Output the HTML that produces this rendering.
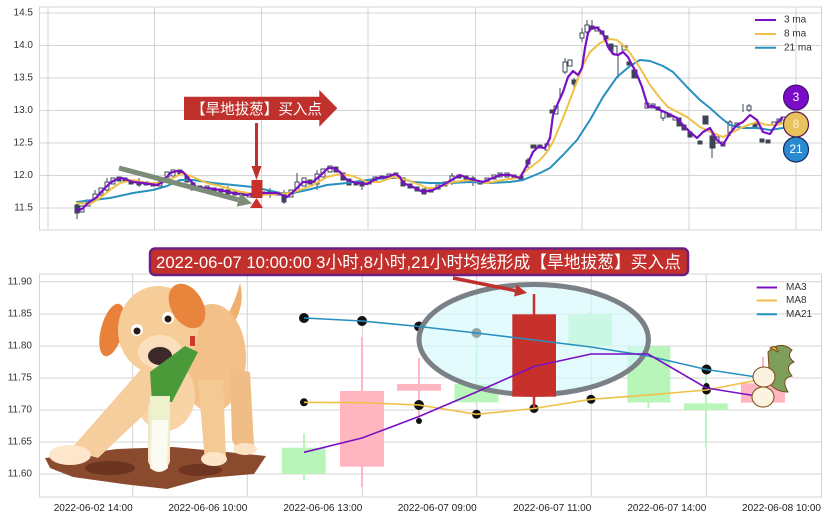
<!DOCTYPE html>
<html><head><meta charset="utf-8"><style>
html,body{margin:0;padding:0;background:#fff;}
svg{display:block;font-family:"Liberation Sans","Noto Sans CJK SC",sans-serif;}
</style></head><body>
<svg width="827" height="520" viewBox="0 0 827 520" xmlns="http://www.w3.org/2000/svg">
<rect width="827" height="520" fill="#fff"/>
<!-- TOP AXES -->
<g stroke="#d4d4d4" stroke-width="1" fill="none">
<path d="M40,13H822M40,45.5H822M40,78H822M40,110.5H822M40,143H822M40,175.5H822M40,208H822"/>
<path d="M48,7V230M154.5,7V230M261.5,7V230M368,7V230M475.5,7V230M582,7V230M689,7V230M796,7V230"/>
<rect x="39.5" y="7" width="782" height="223"/>
</g>
<g font-size="10" fill="#333" text-anchor="end" dominant-baseline="middle">
<text x="33" y="13">14.5</text><text x="33" y="45.5">14.0</text><text x="33" y="78">13.5</text><text x="33" y="110.5">13.0</text><text x="33" y="143">12.5</text><text x="33" y="175.5">12.0</text><text x="33" y="208">11.5</text>
</g>
<!-- top candles -->
<g stroke="#3d4455" stroke-width="1">
<path fill="none" d="M77,203V219M95,190V202M107,178V192M139,178V187M228,186V196M270,188V198M284,190V204M297,173V192M317,170V190M362,180V190M452,173V185M473,176V186M528,158V168M560,88V98M565,58V74M574,78V88M582,28V42M587,20V34M592,20V30M606,35V43M618,56V78M663,110V121M712,133V158M743,104V112M749,104V112M730,120V136"/>
<g fill="#fff">
<rect x="80" y="206" width="4" height="6"/><rect x="86" y="200" width="4" height="6"/><rect x="93" y="194" width="4" height="6"/><rect x="99" y="188" width="4" height="7"/><rect x="105" y="182" width="4" height="8"/><rect x="111" y="178" width="4" height="6"/><rect x="158" y="182" width="4" height="4"/><rect x="165" y="172" width="4" height="8"/><rect x="171" y="170" width="4" height="6"/><rect x="205" y="186" width="4" height="4"/><rect x="247" y="193" width="4" height="4"/><rect x="289" y="190" width="4" height="7"/><rect x="295" y="182" width="4" height="10"/><rect x="302" y="178" width="4" height="8"/><rect x="315" y="174" width="4" height="10"/><rect x="321" y="169" width="4" height="8"/><rect x="328" y="166" width="4" height="6"/><rect x="367" y="180" width="4" height="4"/><rect x="373" y="177" width="4" height="4"/><rect x="387" y="174" width="4" height="4"/><rect x="394" y="173" width="4" height="5"/><rect x="429" y="188" width="4" height="4"/><rect x="436" y="185" width="4" height="4"/><rect x="443" y="182" width="4" height="4"/><rect x="450" y="176" width="4" height="6"/><rect x="485" y="178" width="4" height="4"/><rect x="492" y="175" width="4" height="4"/><rect x="498" y="173" width="4" height="4"/><rect x="505" y="173" width="4" height="4"/><rect x="545" y="144" width="4" height="6"/><rect x="554" y="106" width="4" height="8"/><rect x="563" y="62" width="4" height="10"/><rect x="568" y="60" width="4" height="6"/><rect x="580" y="33" width="4" height="5"/><rect x="585" y="25" width="4" height="7"/><rect x="595" y="27" width="4" height="4"/><rect x="613" y="46" width="4" height="8"/><rect x="622" y="46" width="5" height="4"/><rect x="645" y="103" width="4" height="5"/><rect x="651" y="104" width="4" height="4"/><rect x="661" y="112" width="4" height="6"/><rect x="673" y="117" width="4" height="3"/><rect x="715" y="137" width="4" height="6"/><rect x="721" y="142" width="4" height="4"/><rect x="728" y="122" width="4" height="11"/><rect x="735" y="123" width="4" height="4"/><rect x="747" y="106" width="4" height="4"/><rect x="772" y="122" width="4" height="3"/><rect x="777" y="119" width="4" height="3"/><rect x="781" y="117" width="4" height="3"/>
</g>
<g fill="#3d4455">
<rect x="75" y="205" width="4" height="8"/><rect x="117" y="177" width="4" height="4"/><rect x="123" y="178" width="4" height="3"/><rect x="129" y="180" width="4" height="4"/><rect x="137" y="182" width="4" height="3"/><rect x="144" y="182" width="4" height="3"/><rect x="151" y="183" width="4" height="3"/><rect x="178" y="170" width="4" height="4"/><rect x="185" y="175" width="4" height="7"/><rect x="191" y="183" width="4" height="7"/><rect x="198" y="186" width="4" height="4"/><rect x="212" y="188" width="4" height="3"/><rect x="219" y="189" width="4" height="3"/><rect x="226" y="190" width="4" height="4"/><rect x="233" y="192" width="4" height="3"/><rect x="240" y="193" width="4" height="3"/><rect x="261" y="192" width="4" height="3"/><rect x="268" y="191" width="4" height="4"/><rect x="275" y="192" width="4" height="3"/><rect x="282" y="194" width="4" height="8"/><rect x="308" y="180" width="4" height="4"/><rect x="334" y="167" width="4" height="5"/><rect x="341" y="173" width="4" height="7"/><rect x="347" y="179" width="4" height="6"/><rect x="354" y="182" width="4" height="3"/><rect x="360" y="182" width="4" height="4"/><rect x="380" y="176" width="4" height="3"/><rect x="401" y="178" width="4" height="8"/><rect x="408" y="184" width="4" height="4"/><rect x="415" y="187" width="4" height="4"/><rect x="422" y="189" width="4" height="5"/><rect x="457" y="175" width="4" height="3"/><rect x="464" y="176" width="4" height="3"/><rect x="471" y="178" width="4" height="4"/><rect x="478" y="181" width="4" height="3"/><rect x="512" y="175" width="4" height="3"/><rect x="519" y="176" width="4" height="3"/><rect x="526" y="160" width="4" height="4"/><rect x="531" y="145" width="5" height="3"/><rect x="538" y="145" width="4" height="3"/><rect x="550" y="110" width="4" height="3"/><rect x="572" y="80" width="4" height="4"/><rect x="590" y="26" width="4" height="3"/><rect x="600" y="31" width="4" height="3"/><rect x="604" y="36" width="4" height="4"/><rect x="609" y="44" width="4" height="6"/><rect x="627" y="62" width="4" height="3"/><rect x="632" y="70" width="5" height="8"/><rect x="656" y="107" width="4" height="3"/><rect x="667" y="114" width="4" height="3"/><rect x="677" y="118" width="4" height="8"/><rect x="682" y="125" width="4" height="5"/><rect x="688" y="132" width="4" height="5"/><rect x="698" y="141" width="4" height="3"/><rect x="703" y="116" width="5" height="8"/><rect x="710" y="136" width="5" height="12"/><rect x="753" y="124" width="4" height="3"/><rect x="760" y="139" width="4" height="3"/><rect x="766" y="140" width="4" height="3"/>
</g>
</g>
<!-- top MA lines -->
<g fill="none" stroke-linejoin="round" stroke-linecap="round">
<polyline stroke="#2790c0" stroke-width="2" points="77,202 93,200 110,198 133,193 153,190 167,186 180,180 193,180 213,183 233,185 253,187 267,190 280,193 293,193 307,190 327,185 347,183 367,180 387,178 400,178 413,182 430,183 450,183 470,182 490,183 510,182 523,180 540,173 550,168 563,155 577,140 590,120 603,97 617,77 630,66 640,60 650,61 663,66 673,72 687,87 700,100 710,108 720,117 730,125 743,128 757,128 770,130 783,128"/>
<polyline stroke="#f0c048" stroke-width="2" points="77,203 90,204 100,198 110,190 120,183 133,180 147,183 160,183 173,178 183,173 193,177 207,183 220,186 233,190 247,193 260,195 277,194 290,193 300,190 313,185 327,177 340,174 353,176 367,182 380,182 393,177 407,180 420,185 427,188 437,188 453,182 470,180 487,183 503,180 517,178 527,170 540,160 547,152 553,142 563,118 573,92 583,65 590,52 600,43 610,39 617,40 623,45 630,53 640,68 650,85 660,98 668,107 687,117 700,127 713,133 723,137 733,132 743,127 757,122 767,125 777,125 783,123"/>
<polyline stroke="#7a10c4" stroke-width="2.2" points="76,210 82,209 88,203 97,197 103,190 110,183 115,180 122,178 133,182 143,183 157,185 163,182 170,173 177,171 183,172 190,180 197,188 207,188 220,190 233,193 247,195 257,193 267,193 277,193 287,197 293,192 303,182 313,182 323,173 328,168 333,168 340,172 347,180 357,183 367,184 377,178 387,177 395,174 400,177 403,183 413,187 423,192 433,190 443,185 460,175 470,179 483,182 500,175 510,175 520,178 527,165 533,152 538,147 545,148 550,138 553,115 558,103 563,92 568,77 573,71 578,75 582,68 585,48 588,33 592,27 597,28 602,32 605,38 608,47 613,54 618,55 623,52 628,57 632,65 635,70 638,77 642,87 646,100 648,107 653,106 660,110 667,113 677,118 683,125 690,132 697,138 703,132 710,128 717,140 723,145 730,133 737,125 743,122 750,115 757,120 763,132 770,134 777,123 782,118"/>
</g>
<!-- top annotations -->
<line x1="119" y1="168" x2="238.5" y2="199.8" stroke="#7d8c78" stroke-width="5"/>
<polygon points="252,203.5 236.7,206.6 240.3,193.1" fill="#7d8c78"/>
<line x1="256.5" y1="123" x2="256.5" y2="168" stroke="#c0302c" stroke-width="3"/>
<polygon points="251.5,166 261.5,166 256.5,180" fill="#c0302c"/>
<rect x="251.5" y="180" width="11" height="18" fill="#c8302c"/>
<polygon points="250,208 263,208 256.5,198" fill="#c8302c"/>
<path d="M184,96.7H319.3V90L337.3,108.3L319.3,126.7V120H184Z" fill="#c0302c"/>
<text x="191" y="114" font-size="15" fill="#fff" textLength="131" lengthAdjust="spacingAndGlyphs">【旱地拔葱】买入点</text>
<!-- top legend -->
<g stroke-width="2">
<line x1="755" y1="20" x2="776" y2="20" stroke="#7a10c4"/>
<line x1="755" y1="34" x2="776" y2="34" stroke="#f0c048"/>
<line x1="755" y1="47.7" x2="776" y2="47.7" stroke="#2790c0"/>
</g>
<g font-size="10" fill="#333" dominant-baseline="middle">
<text x="784" y="20">3 ma</text><text x="784" y="34">8 ma</text><text x="784" y="47.7">21 ma</text>
</g>
<!-- circles -->
<circle cx="796" cy="97.5" r="12.5" fill="#7a0cc8" stroke="#3a1060" stroke-width="1"/>
<circle cx="796" cy="124.5" r="12.5" fill="#e8c25c" stroke="#5a1a50" stroke-width="1.2"/>
<circle cx="796" cy="149.5" r="12.5" fill="#2a8ad0" stroke="#1a2a60" stroke-width="1.2"/>
<g font-size="12" fill="#fff" text-anchor="middle" dominant-baseline="middle">
<text x="796" y="98">3</text><text x="796" y="125" fill="#fbeecb">8</text><text x="796" y="150">21</text>
</g>

<!-- BOTTOM AXES -->
<g stroke="#d4d4d4" stroke-width="1" fill="none">
<path d="M40,281.7H822M40,314H822M40,346H822M40,378H822M40,410H822M40,442H822M40,474H822"/>
<path d="M132.7,274V497M247.3,274V497M362.3,274V497M476.7,274V497M591.3,274V497M706.3,274V497"/>
<rect x="39.5" y="274" width="782" height="223"/>
</g>
<g font-size="10" fill="#333" text-anchor="end" dominant-baseline="middle">
<text x="32" y="281.7">11.90</text><text x="32" y="314">11.85</text><text x="32" y="346">11.80</text><text x="32" y="378">11.75</text><text x="32" y="410">11.70</text><text x="32" y="442">11.65</text><text x="32" y="474">11.60</text>
</g>
<g font-size="10" fill="#222" text-anchor="end">
<text x="132.7" y="511">2022-06-02 14:00</text><text x="247.3" y="511">2022-06-06 10:00</text><text x="362.3" y="511">2022-06-06 13:00</text><text x="476.7" y="511">2022-06-07 09:00</text><text x="591.3" y="511">2022-06-07 11:00</text><text x="706.3" y="511">2022-06-07 14:00</text><text x="821" y="511">2022-06-08 10:00</text>
</g>
<!-- bottom candles -->
<g stroke-width="2">
<line x1="304" y1="433" x2="304" y2="480" stroke="#b8f5b8"/>
<line x1="362" y1="337" x2="362" y2="487" stroke="#ffb6c1"/>
<line x1="419" y1="358" x2="419" y2="423" stroke="#ffb6c1"/>
<line x1="476.5" y1="331" x2="476.5" y2="404" stroke="#b8f5b8"/>
<line x1="591" y1="310" x2="591" y2="355" stroke="#b8f5b8"/>
<line x1="648.5" y1="340" x2="648.5" y2="408" stroke="#b8f5b8"/>
<line x1="706" y1="375" x2="706" y2="447" stroke="#b8f5b8"/>
<line x1="763" y1="357" x2="763" y2="403" stroke="#ffb6c1"/>
</g>
<rect x="281.7" y="447.7" width="44" height="26.3" fill="#b8f5b8"/>
<rect x="340" y="391" width="44" height="75.7" fill="#ffb6c1"/>
<rect x="397" y="384" width="44" height="6.7" fill="#ffb6c1"/>
<rect x="454.5" y="384" width="44" height="18.3" fill="#b8f5b8"/>
<rect x="568.3" y="314.3" width="44" height="32" fill="#b8f5b8"/>
<rect x="627.3" y="346.5" width="43" height="56" fill="#b8f5b8"/>
<rect x="684" y="403.3" width="43.7" height="6.7" fill="#b8f5b8"/>
<rect x="741" y="383.3" width="44" height="19.4" fill="#ffb6c1"/>
<!-- dots -->
<g fill="#111">
<circle cx="304" cy="318" r="5"/><circle cx="362" cy="321" r="5"/><circle cx="419" cy="326.5" r="5"/><circle cx="476.5" cy="333" r="5"/><circle cx="706.5" cy="369.5" r="5"/>
<circle cx="304" cy="402.3" r="4"/><circle cx="419" cy="405" r="5"/><circle cx="476.5" cy="414.3" r="4.5"/><circle cx="534" cy="408.5" r="4.5"/><circle cx="591" cy="399.3" r="4.5"/><circle cx="706.5" cy="390" r="4.5"/>
<circle cx="419" cy="421" r="3"/><circle cx="706.5" cy="386" r="3"/>
</g>
<!-- ellipse -->
<ellipse cx="533.7" cy="339.5" rx="114.7" ry="55" fill="#d6f9fc" fill-opacity="0.65" stroke="#7b7f86" stroke-width="5"/>
<!-- red candle -->
<line x1="534" y1="294" x2="534" y2="408" stroke="#c8302c" stroke-width="2.5"/>
<rect x="512.3" y="314.3" width="43.7" height="82.4" fill="#c8302c"/>
<!-- bottom MA lines -->
<g fill="none" stroke-width="1.6" stroke-linejoin="round">
<polyline stroke="#2790c0" points="304,318 362,321 419,326.5 476.5,333 534,340 591,347 648,356 706.5,369.5 763,378"/>
<polyline stroke="#f0c048" points="304,402.3 362,402.7 419,405 476.5,414.3 534,408.5 591,399.3 648,395 706.5,390 763,379"/>
<polyline stroke="#7a10c4" points="304,452.3 362,438 419,416.5 476.5,392 534,366.5 591,354 648,354 706.5,388 763,397"/>
</g>
<!-- red arrow -->
<line x1="453" y1="278" x2="515.2" y2="290.6" stroke="#c0302c" stroke-width="3.5"/>
<polygon points="527,293 514,296.5 516.4,284.7" fill="#c0302c"/>
<!-- title -->
<rect x="150" y="248.5" width="538" height="26.5" rx="5" fill="#c3302c" stroke="#6b1f80" stroke-width="2.5"/>
<text x="156" y="268" font-size="17" fill="#fff" textLength="525" lengthAdjust="spacingAndGlyphs">2022-06-07 10:00:00 3小时,8小时,21小时均线形成【旱地拔葱】买入点</text>
<!-- bottom legend -->
<g stroke-width="2">
<line x1="756.7" y1="287.5" x2="777" y2="287.5" stroke="#7a10c4"/>
<line x1="756.7" y1="300.5" x2="777" y2="300.5" stroke="#f0c048"/>
<line x1="756.7" y1="314.3" x2="777" y2="314.3" stroke="#2790c0"/>
</g>
<g font-size="10" fill="#333" dominant-baseline="middle">
<text x="786" y="287.5">MA3</text><text x="786" y="300.5">MA8</text><text x="786" y="314.3">MA21</text>
</g>

<!-- DOG -->
<g>
<polygon points="45,458 80,454 117,449 173,447 227,452 266,456 254,474 207,478 167,489 123,484 73,477 50,468" fill="#8a4a2e"/>
<ellipse cx="110" cy="468" rx="25" ry="7" fill="#6a3420"/>
<ellipse cx="200" cy="470" rx="22" ry="6" fill="#6e3622"/>
<path d="M232,326 Q246,305 240,283 Q236,300 226,318Z" fill="#f0b070"/>
<ellipse cx="212" cy="358" rx="34" ry="54" fill="#f2c088"/>
<polygon points="230,368 250,372 254,446 238,452 232,440" fill="#efbd85"/>
<ellipse cx="245" cy="449" rx="12" ry="6" fill="#fbe2c4"/>
<polygon points="198,380 223,380 226,458 205,462" fill="#f3c994"/>
<ellipse cx="214" cy="459" rx="13" ry="7" fill="#fce4c8"/>
<ellipse cx="165" cy="395" rx="30" ry="36" fill="#f7d3a6"/>
<polygon points="142,368 172,388 98,458 70,450" fill="#f6cd9c"/>
<ellipse cx="70" cy="455" rx="21" ry="10" fill="#fce6cc"/>
<rect x="148" y="400" width="22" height="68" rx="8" fill="#f9e3c6"/>
<ellipse cx="112" cy="330" rx="11" ry="27" transform="rotate(15 112 330)" fill="#e8823a"/>
<ellipse cx="158" cy="330" rx="40" ry="44" fill="#f6cd98"/>
<ellipse cx="187" cy="306" rx="16" ry="24" transform="rotate(-30 187 306)" fill="#e8843c"/>
<ellipse cx="160" cy="352" rx="22" ry="17" fill="#fbdfbd"/>
<circle cx="137" cy="330" r="6" fill="#fff"/><circle cx="137" cy="331" r="3.5" fill="#2a1a14"/>
<circle cx="168" cy="318" r="6" fill="#fff"/><circle cx="168" cy="319" r="3.5" fill="#2a1a14"/>
<ellipse cx="160" cy="356" rx="12" ry="9" fill="#3c2a2a"/>
<rect x="190" y="336" width="5" height="10" fill="#d03a2a"/>
<polygon points="150,372 185,346 198,352 172,402 152,402" fill="#4a9a3a"/>
<path d="M150,396 L170,396 L168,468 Q159,476 150,468Z" fill="#eef2cc"/>
<path d="M152,420 L168,420 L167,468 Q159,474 151,468Z" fill="#fbfbf4"/>
</g>
<!-- ONION -->
<g stroke="#7a4a1a" stroke-width="1">
<path d="M768,352 Q780,340 792,350 Q786,356 794,362 Q784,366 792,376 Q780,378 788,392 Q776,392 770,384Z" fill="#7e9e5c"/>
<path d="M770,348 Q776,344 778,352Z" fill="#e8b040"/>
<ellipse cx="764" cy="377" rx="11" ry="10" fill="#fbf3df"/>
<ellipse cx="763" cy="397" rx="11" ry="10" fill="#fbf3df"/>
</g>
</svg>
</body></html>
